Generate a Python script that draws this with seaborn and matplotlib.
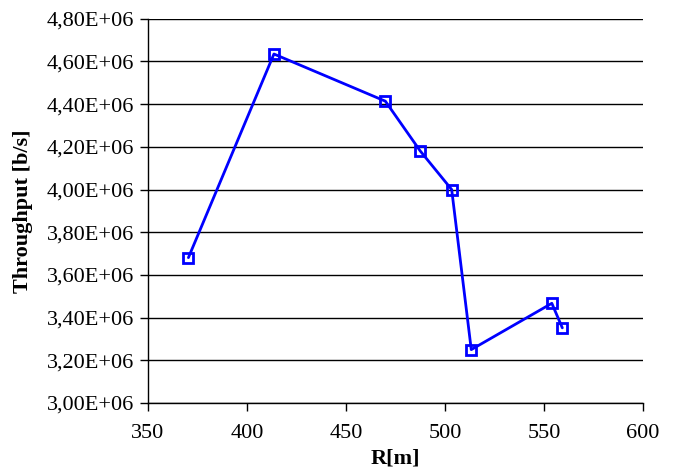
import matplotlib
matplotlib.use("Agg")
import matplotlib.pyplot as plt
import seaborn as sns
from matplotlib.ticker import FuncFormatter, MultipleLocator

# values
radius_m = [370.4, 413.6, 469.9, 487.5, 503.4, 513.3, 554.0, 559.3]
throughput = [3.681e6, 4.635e6, 4.414e6, 4.181e6, 4.000e6, 3.250e6, 3.467e6, 3.352e6]

sns.set_style("ticks")
plt.rcParams['font.family'] = ['Liberation Serif', 'DejaVu Serif']
plt.rcParams['text.color'] = 'black'
plt.rcParams['axes.labelcolor'] = 'black'
plt.rcParams['xtick.color'] = 'black'
plt.rcParams['ytick.color'] = 'black'

fig = plt.figure(figsize=(6.76, 4.70), dpi=100)
ax = fig.add_axes([0.219, 0.1426, 0.732, 0.8174])

sns.lineplot(x=radius_m, y=throughput, sort=False, ax=ax, color='#0000ff', lw=2,
             marker='s', markersize=7, markerfacecolor='none',
             markeredgecolor='#0000ff', markeredgewidth=2)

ax.set_xlim(350, 600)
ax.set_ylim(3.0e6, 4.8e6)
ax.xaxis.set_major_locator(MultipleLocator(50))
ax.yaxis.set_major_locator(MultipleLocator(0.2e6))
ax.yaxis.set_major_formatter(FuncFormatter(lambda v, p: f"{v:.2E}".replace('.', ',')))

ax.grid(axis='y', color='black', lw=1)
ax.set_axisbelow(True)
for s in ['top', 'right']:
    ax.spines[s].set_visible(False)
for s in ['left', 'bottom']:
    ax.spines[s].set_color('black')
    ax.spines[s].set_linewidth(1)
ax.tick_params(axis='both', direction='out', length=6, width=1, color='black',
               labelcolor='black', labelsize=16, left=True, bottom=True)
ax.tick_params(axis='y', pad=4)
ax.tick_params(axis='x', pad=9)

ax.set_xlabel('R[m]', fontsize=16, fontweight='bold', labelpad=4)
ax.set_ylabel('Throughput [b/s]', fontsize=16, fontweight='bold', labelpad=10)

fig.savefig('out.png', dpi=100)
